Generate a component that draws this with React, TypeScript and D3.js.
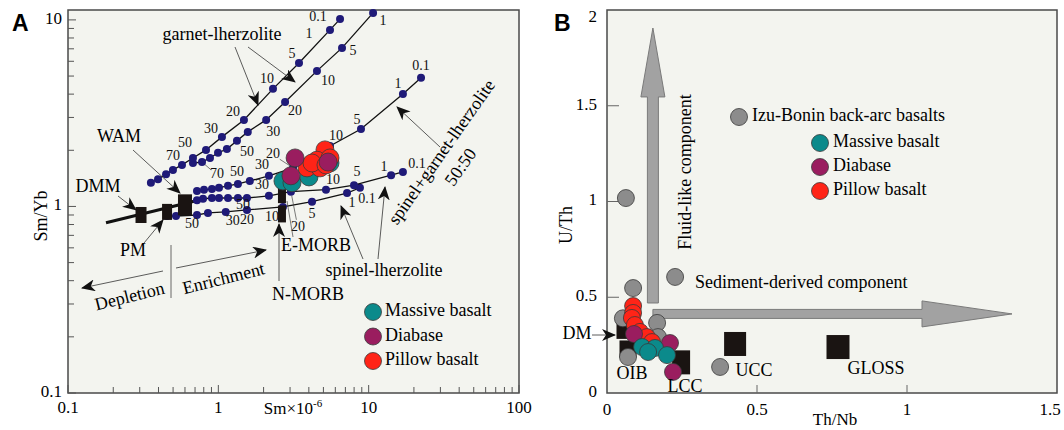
import React from "react";
import * as d3 from "d3";

const W = 1064;
const H = 430;
const SERIF = "'Liberation Serif', 'Times New Roman', serif";

// ---------- panel A: Sm (ppm) vs Sm/Yb, melting curves ----------
const garnetUpperSm = [0.356, 0.397, 0.449, 0.499, 0.573, 0.678, 0.828, 1.057, 1.48, 2.31, 3.44, 5.53, 6.45];
const garnetUpperRatio = [1.34, 1.4, 1.49, 1.57, 1.67, 1.82, 2.01, 2.36, 2.91, 4.27, 5.88, 8.84, 10.1];
const garnetUpperMelt = ["", "", "", "", "70", "50", "", "30", "20", "10", "5", "1", "0.1"];

const garnetLowerSm = [0.678, 0.779, 0.88, 0.995, 1.14, 1.33, 1.57, 2.08, 2.78, 4.53, 6.65, 10.7];
const garnetLowerRatio = [1.71, 1.73, 1.82, 1.94, 2.03, 2.25, 2.51, 2.91, 3.63, 5.33, 7.08, 10.9];
const garnetLowerMelt = ["", "70", "", "", "", "50", "", "30", "20", "10", "5", "1"];

const mixSm = [0.721, 0.803, 0.907, 1.01, 1.16, 1.35, 1.62, 2.17, 3.14, 5.53, 8.89, 16.9, 22.3];
const mixRatio = [1.21, 1.23, 1.24, 1.26, 1.29, 1.32, 1.37, 1.46, 1.61, 2.11, 2.6, 4.01, 4.89];
const mixMelt = ["", "", "", "", "", "50", "", "30", "20", "10", "5", "1", "0.1"];

const spinelUpperSm = [0.721, 0.791, 0.907, 1.01, 1.16, 1.35, 1.55, 2.17, 3.04, 5.2, 7.99, 14.1, 16.9];
const spinelUpperRatio = [1.08, 1.1, 1.11, 1.11, 1.11, 1.11, 1.11, 1.14, 1.2, 1.23, 1.3, 1.47, 1.53];
const spinelUpperMelt = ["", "", "", "", "", "", "50", "30", "20", "10", "5", "1", "0.1"];

const spinelLowerSm = [0.456, 0.523, 0.721, 0.853, 1.12, 1.55, 2.69, 4.2, 7.18, 8.75];
const spinelLowerRatio = [0.889, 0.889, 0.9, 0.923, 0.935, 0.958, 0.994, 1.06, 1.18, 1.26];
const spinelLowerMelt = ["", "", "50", "", "30", "20", "10", "5", "1", "0.1"];

// mantle array through the sources
const mantleSm = [0.179, 0.7];
const mantleRatio = [0.817, 1.07];

const sourceNames = ["DMM", "PM", "WAM", "E-MORB", "N-MORB"];
const sourceSm = [0.306, 0.456, 0.6, 2.65, 2.65];
const sourceRatio = [0.9, 0.935, 1.02, 1.15, 0.912];

const massiveSmA = [2.69, 3.09, 4.01, 5.53];
const massiveRatioA = [1.37, 1.34, 1.44, 1.71];
const pillowSmA = [5.12, 4.53, 3.89, 4.75, 5.53, 4.2, 5.2];
const pillowRatioA = [2.01, 1.77, 1.61, 1.61, 1.82, 1.71, 1.67];
const diabaseSmA = [3.24, 3.04, 5.37];
const diabaseRatioA = [1.82, 1.46, 1.73];

// ---------- panel B: Th/Nb vs U/Th ----------
const izuThNb = [0.063, 0.227, 0.087, 0.167, 0.17, 0.053, 0.07, 0.377];
const izuUTh = [1.018, 0.606, 0.548, 0.366, 0.292, 0.39, 0.188, 0.136];

const refNames = ["DM", "OIB", "LCC", "UCC", "GLOSS"];
const refThNb = [0.05, 0.07, 0.247, 0.427, 0.77];
const refUTh = [0.34, 0.23, 0.16, 0.256, 0.24];

const pillowThNb = [0.087, 0.087, 0.083, 0.093, 0.11, 0.133, 0.15];
const pillowUTh = [0.454, 0.418, 0.392, 0.355, 0.319, 0.292, 0.266];
const diabaseThNb = [0.09, 0.21, 0.22];
const diabaseUTh = [0.308, 0.261, 0.11];
const massiveThNb = [0.117, 0.16, 0.2, 0.137];
const massiveUTh = [0.24, 0.235, 0.198, 0.214];

// component vectors: [start, head base, tip]
const fluidThNb = 0.153;
const fluidUTh = [0.47, 1.546, 1.906];
const sedimentUTh = 0.413;
const sedimentThNb = [0.153, 1.05, 1.35];

const seriesNames = ["Massive basalt", "Diabase", "Pillow basalt"];
const seriesColors = ["#0b8a8b", "#9a1d5f", "#ff2417"];
const izuColor = "#8c8c8c";
const dotColor = "#1f1a78";

const ax = d3.scaleLog().domain([0.1, 100]).range([68, 519]);
const ay = d3.scaleLog().domain([0.1, 11.3]).range([393, 10]);
const bx = d3.scaleLinear().domain([0, 1.5]).range([607, 1057]);
const by = d3.scaleLinear().domain([0, 2]).range([393, 10]);

// where each melt label sits relative to its point (dx, dy, leader line)
const tagPlace: Record<string, Record<number, [number, number, boolean?]>> = {
  garnetUpper: { 4: [-9, -8], 5: [-8, -14], 7: [-11, -7], 8: [-11, -7], 9: [-6, -9], 10: [-7, -8], 11: [-21, 5], 12: [-22, -1] },
  garnetLower: { 1: [15, 13, true], 5: [10, 12], 7: [7, 13], 8: [10, 10], 9: [11, 11], 10: [11, 4], 11: [10, 9] },
  mix: { 5: [-1, -11], 7: [-7, -10], 8: [-20, -13, true], 9: [6, -9], 10: [-4, -8], 11: [-5, -9], 12: [0, -11] },
  spinelUpper: { 6: [-4, 8], 7: [-7, -10], 8: [7, 36, true], 9: [7, -9], 10: [3, -12], 11: [-7, -7], 12: [14, -7] },
  spinelLower: { 2: [-5, 10], 4: [7, 10], 5: [0, 11], 6: [-11, 11], 7: [0, 13], 8: [5, 11], 9: [7, 12] },
};

const sourceSize: Record<string, [number, number]> = {
  DMM: [11, 16], PM: [10, 16], WAM: [14, 21], "E-MORB": [8, 16], "N-MORB": [8, 17],
};
const refSize: Record<string, [number, number]> = {
  DM: [11, 22], OIB: [17, 17], LCC: [18, 24], UCC: [22, 24], GLOSS: [23, 24],
};

function logTicks(lo: number, hi: number) {
  const out: { v: number; major: boolean }[] = [];
  for (let e = Math.floor(Math.log10(lo)); e <= Math.ceil(Math.log10(hi)); e++) {
    for (let k = 1; k <= 9; k++) {
      const v = k * Math.pow(10, e);
      if (v >= lo * 0.999 && v <= hi * 1.001) out.push({ v, major: k === 1 });
    }
  }
  return out;
}

const MeltCurve = ({ sm, ratio, melt, place }: { sm: number[]; ratio: number[]; melt: string[]; place: Record<number, [number, number, boolean?]> }) => {
  const pts = sm.map((s, i) => [ax(s), ay(ratio[i])] as [number, number]);
  const line = d3.line();
  return (
    <g>
      <path d={line(pts) || ""} fill="none" stroke="#111" strokeWidth={1.3} />
      {pts.map((p, i) => (
        <circle key={i} cx={p[0]} cy={p[1]} r={4} fill={dotColor} />
      ))}
      {melt.map((m, i) => {
        if (!m || !place[i]) return null;
        const [dx, dy, lead] = place[i];
        const [px, py] = pts[i];
        const tx = px + dx;
        const ty = py + dy;
        let leader = null;
        if (lead) {
          const len = Math.hypot(dx, dy);
          const ux = -dx / len;
          const uy = -dy / len;
          leader = <line x1={tx + ux * 8} y1={ty + uy * 8} x2={px - ux * 4} y2={py - uy * 4} stroke="#444" strokeWidth={0.7} />;
        }
        return (
          <g key={"t" + i}>
            {leader}
            <text x={tx} y={ty} fontSize={14} textAnchor="middle" dominantBaseline="middle" fill="#111">{m}</text>
          </g>
        );
      })}
    </g>
  );
};

const Dot = ({ cx, cy, r, fill }: { cx: number; cy: number; r: number; fill: string }) => (
  <circle cx={cx} cy={cy} r={r} fill={fill} stroke="#3a3a3a" strokeWidth={0.8} />
);

const PanelA = () => {
  const [l, r] = ax.range();
  const [b, t] = ay.range();
  const xt = logTicks(0.1, 100);
  const yt = logTicks(0.1, 11.3);
  const annot = [
    { x1: 235, y1: 47, x2: 258, y2: 105 },
    { x1: 248, y1: 47, x2: 295, y2: 82 },
    { x1: 133, y1: 150, x2: 180, y2: 193 },
    { x1: 118, y1: 196, x2: 136, y2: 210 },
    { x1: 144, y1: 243, x2: 163, y2: 220 },
    { x1: 279, y1: 281, x2: 279, y2: 224 },
    { x1: 363, y1: 259, x2: 341, y2: 206 },
    { x1: 378, y1: 259, x2: 385, y2: 187 },
    { x1: 440, y1: 147, x2: 397, y2: 107 },
    { x1: 163, y1: 271, x2: 82, y2: 288 },
    { x1: 176, y1: 268, x2: 266, y2: 250 },
  ];
  return (
    <g>
      <rect x={l} y={t} width={r - l} height={b - t} fill="#f3f4ef" stroke="#4a4a4a" strokeWidth={1.5} />
      {xt.map((d, i) => (
        <line key={"x" + i} x1={ax(d.v)} x2={ax(d.v)} y1={b} y2={b - (d.major ? 8 : 6)} stroke="#555" strokeWidth={1} />
      ))}
      {yt.map((d, i) => (
        <line key={"y" + i} x1={l} x2={l + (d.major ? 8 : 6)} y1={ay(d.v)} y2={ay(d.v)} stroke="#555" strokeWidth={1} />
      ))}
      {[0.1, 1, 10, 100].map((v) => (
        <text key={"xl" + v} x={ax(v)} y={b + 16} fontSize={17} textAnchor="middle" dominantBaseline="middle">{v}</text>
      ))}
      {[0.1, 1, 10].map((v) => (
        <text key={"yl" + v} x={l - 6} y={ay(v)} fontSize={17} textAnchor="end" dominantBaseline="middle">{v}</text>
      ))}
      <text x={43} y={216} fontSize={18} textAnchor="middle" dominantBaseline="middle" transform="rotate(-90 43 216)">Sm/Yb</text>
      <text x={293} y={410} fontSize={17} textAnchor="middle" dominantBaseline="middle">
        Sm×10<tspan fontSize={11} dy={-6}>-6</tspan>
      </text>
      <text x={12} y={31} fontSize={23} fontWeight="bold" fontFamily="'Liberation Sans', Arial, sans-serif">A</text>

      {/* mantle array */}
      <path d={d3.line()(mantleSm.map((s, i) => [ax(s), ay(mantleRatio[i])] as [number, number])) || ""} stroke="#111" strokeWidth={3} fill="none" />

      <MeltCurve sm={spinelLowerSm} ratio={spinelLowerRatio} melt={spinelLowerMelt} place={tagPlace.spinelLower} />
      <MeltCurve sm={spinelUpperSm} ratio={spinelUpperRatio} melt={spinelUpperMelt} place={tagPlace.spinelUpper} />
      <MeltCurve sm={mixSm} ratio={mixRatio} melt={mixMelt} place={tagPlace.mix} />
      <MeltCurve sm={garnetLowerSm} ratio={garnetLowerRatio} melt={garnetLowerMelt} place={tagPlace.garnetLower} />
      <MeltCurve sm={garnetUpperSm} ratio={garnetUpperRatio} melt={garnetUpperMelt} place={tagPlace.garnetUpper} />

      {sourceNames.map((n, i) => {
        const [w, h] = sourceSize[n];
        return <rect key={n} x={ax(sourceSm[i]) - w / 2} y={ay(sourceRatio[i]) - h / 2} width={w} height={h} fill="#1a1412" />;
      })}

      {annot.map((a, i) => (
        <line key={"a" + i} {...a} stroke="#333" strokeWidth={0.8} markerEnd="url(#barb)" />
      ))}
      <line x1={293} y1={237} x2={287} y2={201} stroke="#444" strokeWidth={0.7} />
      <line x1={171} y1={245} x2={171} y2={298} stroke="#444" strokeWidth={0.8} />

      <text x={222} y={36} fontSize={18} textAnchor="middle" dominantBaseline="middle">garnet-lherzolite</text>
      <text x={119} y={138} fontSize={18} textAnchor="middle" dominantBaseline="middle">WAM</text>
      <text x={98} y={188} fontSize={18} textAnchor="middle" dominantBaseline="middle">DMM</text>
      <text x={133} y={252} fontSize={18} textAnchor="middle" dominantBaseline="middle">PM</text>
      <text x={130} y={298} fontSize={18} textAnchor="middle" dominantBaseline="middle" transform="rotate(-14 130 298)">Depletion</text>
      <text x={224} y={280} fontSize={18} textAnchor="middle" dominantBaseline="middle" transform="rotate(-14 224 280)">Enrichment</text>
      <text x={316} y={247} fontSize={18} textAnchor="middle" dominantBaseline="middle">E-MORB</text>
      <text x={308} y={296} fontSize={18} textAnchor="middle" dominantBaseline="middle">N-MORB</text>
      <text x={384} y={272} fontSize={18} textAnchor="middle" dominantBaseline="middle">spinel-lherzolite</text>
      <text x={443} y={153} fontSize={18} textAnchor="middle" dominantBaseline="middle" transform="rotate(-55 443 153)">spinel+garnet-lherzolite</text>
      <text x={462} y={168} fontSize={18} textAnchor="middle" dominantBaseline="middle" transform="rotate(-55 462 168)">50:50</text>

      {massiveSmA.map((s, i) => <Dot key={"m" + i} cx={ax(s)} cy={ay(massiveRatioA[i])} r={9} fill={seriesColors[0]} />)}
      {pillowSmA.map((s, i) => <Dot key={"p" + i} cx={ax(s)} cy={ay(pillowRatioA[i])} r={9} fill={seriesColors[2]} />)}
      {diabaseSmA.map((s, i) => <Dot key={"d" + i} cx={ax(s)} cy={ay(diabaseRatioA[i])} r={9} fill={seriesColors[1]} />)}

      {seriesNames.map((n, i) => (
        <g key={n}>
          <Dot cx={373} cy={312 + i * 24.5} r={8.5} fill={seriesColors[i]} />
          <text x={385} y={312 + i * 24.5} fontSize={18} dominantBaseline="middle">{n}</text>
        </g>
      ))}
    </g>
  );
};

const PanelB = () => {
  const [l, r] = bx.range();
  const [b, t] = by.range();
  const fx = bx(fluidThNb);
  const [f0, f1, f2] = fluidUTh.map((v) => by(v));
  const fluid = [[fx - 5.5, f0], [fx + 5.5, f0], [fx + 5.5, f1], [fx + 12, f1], [fx, f2], [fx - 12, f1], [fx - 5.5, f1]];
  const sy = by(sedimentUTh);
  const [s0, s1, s2] = sedimentThNb.map((v) => bx(v));
  const sed = [[s0, sy - 4.5], [s1, sy - 4.5], [s1, sy - 13], [s2, sy], [s1, sy + 13], [s1, sy + 4.5], [s0, sy + 4.5]];
  return (
    <g>
      <rect x={l} y={t} width={r - l} height={b - t} fill="#f3f4ef" stroke="#4a4a4a" strokeWidth={1.5} />
      {[0.5, 1, 1.5].map((v) => (
        <line key={"yt" + v} x1={l} x2={l + 12} y1={by(v)} y2={by(v)} stroke="#666" strokeWidth={1} />
      ))}
      {[0.5, 1].map((v) => (
        <line key={"xt" + v} x1={bx(v)} x2={bx(v)} y1={b} y2={b - 8} stroke="#666" strokeWidth={1} />
      ))}
      {[0, 0.5, 1, 1.5, 2].map((v) => (
        <text key={"yl" + v} x={l - 10} y={Math.max(by(v), 18)} fontSize={17} textAnchor="end" dominantBaseline="middle">{v}</text>
      ))}
      {[0, 0.5, 1, 1.5].map((v) => (
        <text key={"xl" + v} x={Math.min(bx(v), W - 14)} y={b + 18} fontSize={17} textAnchor="middle" dominantBaseline="middle">{v}</text>
      ))}
      <text x={568} y={225} fontSize={18} textAnchor="middle" dominantBaseline="middle" transform="rotate(-90 568 225)">U/Th</text>
      <text x={835} y={421} fontSize={17} textAnchor="middle" dominantBaseline="middle">Th/Nb</text>
      <text x={554} y={31} fontSize={23} fontWeight="bold" fontFamily="'Liberation Sans', Arial, sans-serif">B</text>

      <polygon points={fluid.map((p) => p.join(",")).join(" ")} fill="#a2a2a2" stroke="#7a7a7a" strokeWidth={1} />
      <polygon points={sed.map((p) => p.join(",")).join(" ")} fill="#a2a2a2" stroke="#7a7a7a" strokeWidth={1} />
      <text x={687} y={172} fontSize={18} textAnchor="middle" dominantBaseline="middle" transform="rotate(-90 687 172)">Fluid-like component</text>
      <text x={695} y={284} fontSize={18} dominantBaseline="middle">Sediment-derived component</text>

      {refNames.map((n, i) => {
        const [w, h] = refSize[n];
        return <rect key={n} x={bx(refThNb[i]) - w / 2} y={by(refUTh[i]) - h / 2} width={w} height={h} fill="#1a1412" />;
      })}
      {izuThNb.map((v, i) => <Dot key={"g" + i} cx={bx(v)} cy={by(izuUTh[i])} r={8.5} fill={izuColor} />)}
      {pillowThNb.map((v, i) => <Dot key={"p" + i} cx={bx(v)} cy={by(pillowUTh[i])} r={8.5} fill={seriesColors[2]} />)}
      {diabaseThNb.map((v, i) => <Dot key={"d" + i} cx={bx(v)} cy={by(diabaseUTh[i])} r={8.5} fill={seriesColors[1]} />)}
      {massiveThNb.map((v, i) => <Dot key={"m" + i} cx={bx(v)} cy={by(massiveUTh[i])} r={8.5} fill={seriesColors[0]} />)}

      <line x1={592} y1={335} x2={615} y2={335} stroke="#333" strokeWidth={0.8} markerEnd="url(#barb)" />
      <text x={577} y={335} fontSize={18} textAnchor="middle" dominantBaseline="middle">DM</text>
      <text x={632} y={375} fontSize={18} textAnchor="middle" dominantBaseline="middle">OIB</text>
      <text x={685} y={388} fontSize={18} textAnchor="middle" dominantBaseline="middle">LCC</text>
      <text x={754} y={372} fontSize={18} textAnchor="middle" dominantBaseline="middle">UCC</text>
      <text x={876} y={370} fontSize={18} textAnchor="middle" dominantBaseline="middle">GLOSS</text>

      <Dot cx={739} cy={117} r={8.5} fill={izuColor} />
      <text x={752} y={117} fontSize={18} dominantBaseline="middle">Izu-Bonin back-arc basalts</text>
      {seriesNames.map((n, i) => (
        <g key={n}>
          <Dot cx={820} cy={143 + i * 24} r={8.5} fill={seriesColors[i]} />
          <text x={833} y={143 + i * 24} fontSize={18} dominantBaseline="middle">{n}</text>
        </g>
      ))}
    </g>
  );
};

export default function App() {
  return (
    <svg width={W} height={H} fontFamily={SERIF} style={{ position: "absolute", left: 0, top: 0, background: "#fff" }}>
      <defs>
        <marker id="barb" viewBox="0 0 14 12" refX={13} refY={6} markerWidth={14} markerHeight={12} markerUnits="userSpaceOnUse" orient="auto">
          <path d="M0,0 L14,6 L0,12 L4,6 Z" fill="#111" />
        </marker>
      </defs>
      <PanelA />
      <PanelB />
    </svg>
  );
}
